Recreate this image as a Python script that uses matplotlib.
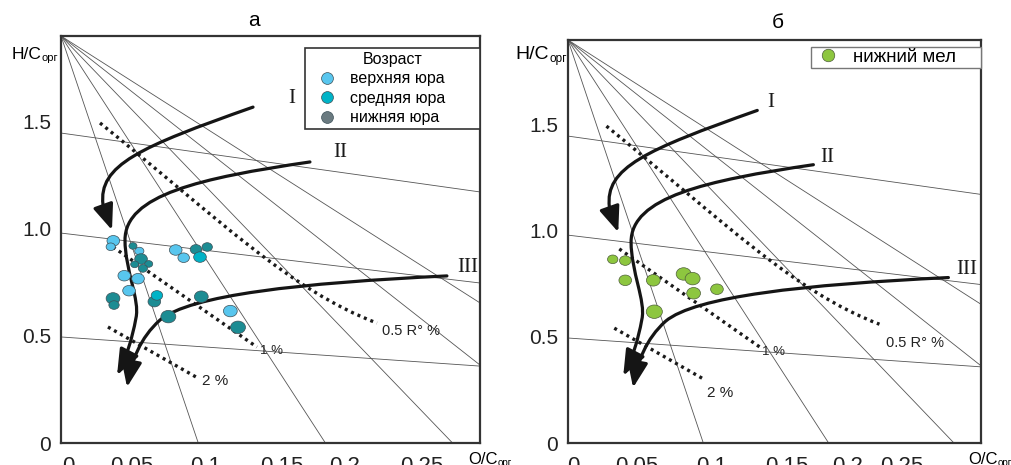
import matplotlib
matplotlib.use("Agg")
import matplotlib.pyplot as plt
from matplotlib.path import Path
from matplotlib.patches import FancyArrowPatch, PathPatch
from matplotlib.markers import MarkerStyle
from matplotlib.lines import Line2D
from matplotlib.transforms import Affine2D

plt.rcParams['font.family'] = ['Liberation Sans', 'DejaVu Sans']

# ---------------- data ----------------
panel_titles = ['а', 'б']
x_tick_labels = ['0', '0.05', '0.1', '0.15', '0.2', '0.25']
y_tick_values = [0, 0.5, 1.0, 1.5]
y_tick_labels = ['0', '0.5', '1.0', '1.5']

legend_title_a = 'Возраст'
series_names_a = ['верхняя юра', 'средняя юра', 'нижняя юра']
series_name_b = 'нижний мел'

# panel a: upper Jurassic
upper_oc = [0.0362, 0.0344, 0.0542, 0.0794, 0.0849, 0.0438, 0.0533, 0.0471, 0.1172]
upper_hc = [0.944, 0.916, 0.896, 0.901, 0.865, 0.781, 0.767, 0.711, 0.616]
upper_sz = [11, 8, 8, 11, 10, 11, 11, 11, 12]
# panel a: middle Jurassic
middle_oc = [0.0962, 0.0664]
middle_hc = [0.868, 0.689]
middle_sz = [11, 10]
# panel a: lower Jurassic
lower_oc = [0.0498, 0.0554, 0.0510, 0.0607, 0.0567, 0.0934, 0.1012, 0.0360, 0.0367,
            0.0646, 0.0971, 0.0743, 0.1225]
lower_hc = [0.920, 0.859, 0.834, 0.836, 0.815, 0.904, 0.915, 0.675, 0.644,
            0.660, 0.683, 0.590, 0.540]
lower_sz = [7, 11, 7, 7, 8, 10, 9, 12, 9, 11, 12, 13, 13]
# panel b: lower Cretaceous
cret_oc = [0.0314, 0.0402, 0.0402, 0.0599, 0.0812, 0.0875, 0.0882, 0.1046, 0.0606]
cret_hc = [0.866, 0.860, 0.767, 0.767, 0.797, 0.775, 0.706, 0.725, 0.619]
cret_sz = [9, 10, 11, 12, 13, 13, 12, 11, 14]

# diagram guides (O/C, H/C)
apex = (0.0, 1.9)
radial_ends = [(0.095, 0.0), (0.183, 0.0), (0.271, 0.0), (0.29, 0.364), (0.29, 0.654)]
transverse_lines = [((0.0, 1.447), (0.29, 1.172)),
                    ((0.0, 0.980), (0.29, 0.747)),
                    ((0.0, 0.495), (0.29, 0.359))]
curve_I = [(0.1329, 1.568), (0.0547, 1.382), (0.0256, 1.298), (0.0291, 1.111), (0.0353, 0.994)]
curve_II = [(0.1723, 1.312), (0.0962, 1.237), (0.0443, 1.158), (0.0443, 0.948),
            (0.0443, 0.808), (0.0547, 0.668), (0.0519, 0.584),
            (0.0491, 0.481), (0.0450, 0.397), (0.0388, 0.317)]
curve_III = [(0.2671, 0.780), (0.1654, 0.747), (0.0893, 0.691), (0.0685, 0.574),
             (0.0547, 0.490), (0.0491, 0.387), (0.0457, 0.261)]
ro_05 = [(0.027, 1.494), (0.110, 1.041), (0.1585, 0.714), (0.2187, 0.560)]
ro_1 = [(0.036, 0.915), (0.1356, 0.448)]
ro_2 = [(0.0325, 0.5415), (0.0948, 0.303)]

# ---------------- style ----------------
C_UPPER = '#58C6EE'
C_MIDDLE = '#00B3C7'
C_LOWER = '#1C8C93'
C_LOWER_LEG = '#6A7A80'
C_CRET = '#8DC63F'
EDGE = '#3d5058'
SIZE_K = 1.15
W, H = 1011, 465

fig = plt.figure(figsize=(W / 100, H / 100), dpi=100)
axA = fig.add_axes([61 / W, 22 / H, 419 / W, 407 / H])
axB = fig.add_axes([568 / W, 22 / H, 413 / W, 403 / H])

ell = MarkerStyle(Path.unit_circle().transformed(Affine2D().scale(1.2, 1.0)))


def fpx(x, y):
    return x / W, 1 - y / H


def draw_guides(ax, lab):
    for (xe, ye) in radial_ends:
        ax.plot([apex[0], xe], [apex[1], ye], color='#555555', lw=0.6, zorder=1)
    for (p0, p1) in transverse_lines:
        ax.plot([p0[0], p1[0]], [p0[1], p1[1]], color='#555555', lw=0.6, zorder=1)
    # maturity lines
    pth = Path(ro_05, [Path.MOVETO, Path.CURVE4, Path.CURVE4, Path.CURVE4])
    ax.add_patch(PathPatch(pth, fill=False, lw=2.4, ls=(0, (0.9, 1.2)),
                           color='#1a1a1a', zorder=2))
    for seg in (ro_1, ro_2):
        ax.plot([p[0] for p in seg], [p[1] for p in seg], color='#1a1a1a',
                lw=2.4, ls=(0, (0.9, 1.2)), zorder=2)
    # evolution curves
    C4, L = Path.CURVE4, Path.LINETO
    specs = [
        (curve_I, [Path.MOVETO, C4, C4, C4, L]),
        (curve_II, [Path.MOVETO, C4, C4, C4, C4, C4, C4, C4, C4, C4]),
        (curve_III, [Path.MOVETO, C4, C4, C4, C4, C4, C4]),
    ]
    for verts, codes in specs:
        arr = FancyArrowPatch(path=Path(verts, codes),
                              arrowstyle='-|>,head_length=0.6,head_width=0.24',
                              mutation_scale=26, lw=2.3, color='#151515', zorder=3)
        ax.add_patch(arr)
    for txt, (x, y) in zip(['I', 'II', 'III'], lab['roman']):
        ax.text(x, y, txt, family='Liberation Serif', fontsize=15, ha='center',
                va='center', color='#1a1a1a', zorder=4)
    for txt, (x, y), fs in zip(['0.5 R° %', '1 %', '2 %'], lab['ro'], [10.5, 9.5, 11]):
        ax.text(x, y, txt, fontsize=fs, ha='left', va='center', color='#222222', zorder=4)


def style_axes(ax, xtick_pos):
    ax.set_xlim(0, 0.29)
    ax.set_ylim(0, 1.9)
    ax.set_xticks(xtick_pos)
    ax.set_xticklabels(x_tick_labels, fontsize=16, color='#222222')
    ax.set_yticks(y_tick_values)
    ax.set_yticklabels(y_tick_labels, fontsize=15, color='#222222')
    ax.tick_params(length=0, pad=7)
    ax.tick_params(axis='x', pad=9)
    for s in ax.spines.values():
        s.set_linewidth(1.6)
        s.set_color('#333333')


# ---------- panel a ----------
draw_guides(axA, {'roman': [(0.160, 1.610), (0.193, 1.354), (0.2816, 0.817)],
                  'ro': [(0.2221, 0.523), (0.1377, 0.429), (0.0976, 0.289)]})
for xs, ys, sz, col in [(upper_oc, upper_hc, upper_sz, C_UPPER),
                        (lower_oc, lower_hc, lower_sz, C_LOWER),
                        (middle_oc, middle_hc, middle_sz, C_MIDDLE)]:
    axA.scatter(xs, ys, s=[(0.72 * d * SIZE_K) ** 2 for d in sz], marker=ell, c=col,
                edgecolors=EDGE, linewidths=0.5, zorder=5)
style_axes(axA, [0.0048, 0.049, 0.1003, 0.1529, 0.1965, 0.2498])
hA = [Line2D([], [], ls='', marker='o', markersize=8.5, markerfacecolor=c,
             markeredgecolor=EDGE, markeredgewidth=0.5)
      for c in (C_UPPER, C_MIDDLE, C_LOWER_LEG)]
legA = axA.legend(hA, series_names_a, title=legend_title_a, loc='upper left',
                  bbox_to_anchor=(244 / 419, 1 - 12 / 407, 175 / 419, 0.0),
                  mode='expand', fontsize=11.5,
                  title_fontsize=11.5, fancybox=False, edgecolor='#333333',
                  framealpha=1, handlelength=2.25, handletextpad=0.3,
                  labelspacing=0.28, borderpad=0.25, borderaxespad=0)
legA.get_frame().set_linewidth(1.2)
legA.set_zorder(10)

# ---------- panel b ----------
draw_guides(axB, {'roman': [(0.1425, 1.603), (0.1819, 1.348), (0.280, 0.816)],
                  'ro': [(0.2233, 0.471), (0.1362, 0.429), (0.0976, 0.236)]})
axB.scatter(cret_oc, cret_hc, s=[(0.72 * d * SIZE_K) ** 2 for d in cret_sz], marker=ell,
            c=C_CRET, edgecolors='#4e5e3a', linewidths=0.5, zorder=5)
style_axes(axB, [0.0035, 0.0484, 0.1011, 0.1537, 0.1966, 0.2345])
hB = [Line2D([], [], ls='', marker='o', markersize=9, markerfacecolor=C_CRET,
             markeredgecolor='#4e5e3a', markeredgewidth=0.5)]
legB = axB.legend(hB, [series_name_b], loc='upper left',
                  bbox_to_anchor=(243 / 413, 1 - 7 / 403, 170 / 413, 0.0),
                  mode='expand', fontsize=13.5, fancybox=False,
                  edgecolor='#777777', framealpha=1, handlelength=1.6,
                  handletextpad=0.53, borderpad=0.1, borderaxespad=0)
legB.get_frame().set_linewidth(1.0)
legB.set_zorder(10)

# ---------- titles and axis labels ----------
fig.text(*fpx(254, 20), panel_titles[0], fontsize=15, ha='center', va='center')
fig.text(*fpx(778, 22), panel_titles[1], fontsize=15, ha='center', va='center')

fig.text(*fpx(12, 59), 'H/C', fontsize=12.5, ha='left', va='baseline')
fig.text(*fpx(42, 61), 'орг', fontsize=8, ha='left', va='baseline')
fig.text(*fpx(515, 59), 'Н/С', fontsize=14, ha='left', va='baseline')
fig.text(*fpx(549, 62), 'орг', fontsize=8.5, ha='left', va='baseline')

fig.text(*fpx(468, 452), 'O/C', fontsize=12, ha='left', va='top')
fig.text(*fpx(498, 458), 'орг', fontsize=7, ha='left', va='top')
fig.text(*fpx(968, 452), 'O/C', fontsize=12, ha='left', va='top')
fig.text(*fpx(998, 458), 'орг', fontsize=7, ha='left', va='top')

fig.savefig('out.png', dpi=100)
